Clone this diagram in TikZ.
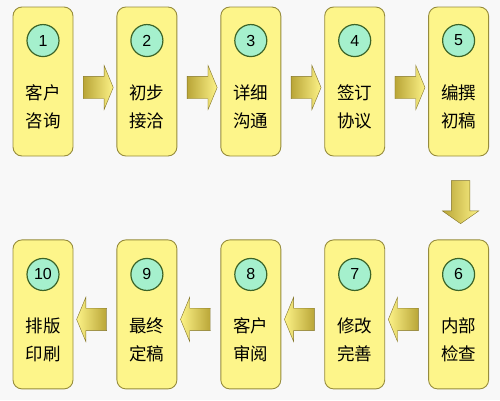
\documentclass[tikz,border=0pt]{standalone}
\usepackage{fontspec}
\setmainfont{Noto Sans CJK SC}
\newfontfamily\numfont{Liberation Sans}
\usetikzlibrary{positioning,shapes.arrows,calc}
\definecolor{boxfill}{RGB}{253,245,138}
\definecolor{boxline}{RGB}{150,140,60}
\definecolor{numfill}{RGB}{165,240,205}
\definecolor{numline}{RGB}{60,100,40}
\definecolor{arrdark}{RGB}{185,165,55}
\definecolor{arrlight}{RGB}{252,242,135}
\definecolor{bgfill}{RGB}{248,248,248}
\tikzset{
  stepbox/.style={draw=boxline, line width=0.9pt, fill=boxfill, rounded corners=9pt,
    minimum width=60pt, minimum height=149pt, inner sep=0pt},
  numdot/.style={circle, draw=numline, line width=1.2pt, fill=numfill, minimum size=32pt,
    inner sep=0pt, font=\numfont\fontsize{16}{16}\selectfont},
  steptext/.style={align=center, inner sep=0pt, font=\fontsize{17.5}{28}\selectfont},
  blockarrow/.style={single arrow, draw=arrdark!70!black, line width=0.4pt, inner xsep=0pt,
    inner ysep=11pt, single arrow head extend=11pt, single arrow tip angle=135,
    minimum height=30pt},
  rarrow/.style={blockarrow, left color=arrdark, right color=arrlight},
  larrow/.style={blockarrow, shape border rotate=180, left color=arrlight, right color=arrdark},
  darrow/.style={blockarrow, rotate=-90, inner ysep=9pt, single arrow head extend=9pt,
    single arrow tip angle=110, minimum height=43pt, left color=arrdark, right color=arrlight}
}
\begin{document}
\begin{tikzpicture}[x=1pt,y=-1pt]
\fill[bgfill] (0,0) rectangle (500,400);
\useasboundingbox (0,0) rectangle (500,400);

%Shape: steps of the top row
\node[stepbox] (b1) at (43,81.5) {};
\node[stepbox, right=43pt of b1] (b2) {};
\node[stepbox, right=43pt of b2] (b3) {};
\node[stepbox, right=43pt of b3] (b4) {};
\node[stepbox, right=43pt of b4] (b5) {};
%Shape: steps of the bottom row
\node[stepbox, below=83pt of b5] (b6) {};
\node[stepbox, left=43pt of b6] (b7) {};
\node[stepbox, left=43pt of b7] (b8) {};
\node[stepbox, left=43pt of b8] (b9) {};
\node[stepbox, left=43pt of b9] (b10) {};

%Shape: numbers
\node[numdot] (n1) at ($(b1.north)+(0,34)$) {1};
\node[numdot] (n2) at ($(b2.north)+(0,34)$) {2};
\node[numdot] (n3) at ($(b3.north)+(0,34)$) {3};
\node[numdot] (n4) at ($(b4.north)+(0,34)$) {4};
\node[numdot] (n5) at ($(b5.north)+(0,34)$) {5};
\node[numdot] (n6) at ($(b6.north)+(0,35)$) {6};
\node[numdot] (n7) at ($(b7.north)+(0,35)$) {7};
\node[numdot] (n8) at ($(b8.north)+(0,35)$) {8};
\node[numdot] (n9) at ($(b9.north)+(0,35)$) {9};
\node[numdot] (n10) at ($(b10.north)+(0,35)$) {10};

% Text Node
\node[steptext] (t1) at ($(b1.north)+(0,100)$) {客户\\咨询};
\node[steptext] (t2) at ($(b2.north)+(0,100)$) {初步\\接洽};
\node[steptext] (t3) at ($(b3.north)+(0,100)$) {详细\\沟通};
\node[steptext] (t4) at ($(b4.north)+(0,100)$) {签订\\协议};
\node[steptext] (t5) at ($(b5.north)+(0,100)$) {编撰\\初稿};
\node[steptext] (t6) at ($(b6.north)+(0,100)$) {内部\\检查};
\node[steptext] (t7) at ($(b7.north)+(0,100)$) {修改\\完善};
\node[steptext] (t8) at ($(b8.north)+(0,100)$) {客户\\审阅};
\node[steptext] (t9) at ($(b9.north)+(0,100)$) {最终\\定稿};
\node[steptext] (t10) at ($(b10.north)+(0,100)$) {排版\\印刷};

%Shape: block arrows
\node[rarrow] (a12) at ($($(b1.east)!0.5!(b2.west)$)+(1,6)$) {};
\node[rarrow] (a23) at ($($(b2.east)!0.5!(b3.west)$)+(1,6)$) {};
\node[rarrow] (a34) at ($($(b3.east)!0.5!(b4.west)$)+(1,6)$) {};
\node[rarrow] (a45) at ($($(b4.east)!0.5!(b5.west)$)+(1,6)$) {};
\node[darrow] (a56) at ($($(b5.south)!0.5!(b6.north)$)+(2,1)$) {};
\node[larrow] (a67) at ($($(b6.west)!0.5!(b7.east)$)+(-1,5)$) {};
\node[larrow] (a78) at ($($(b7.west)!0.5!(b8.east)$)+(-1,5)$) {};
\node[larrow] (a89) at ($($(b8.west)!0.5!(b9.east)$)+(-1,5)$) {};
\node[larrow] (a910) at ($($(b9.west)!0.5!(b10.east)$)+(-1,5)$) {};
\end{tikzpicture}
\end{document}
